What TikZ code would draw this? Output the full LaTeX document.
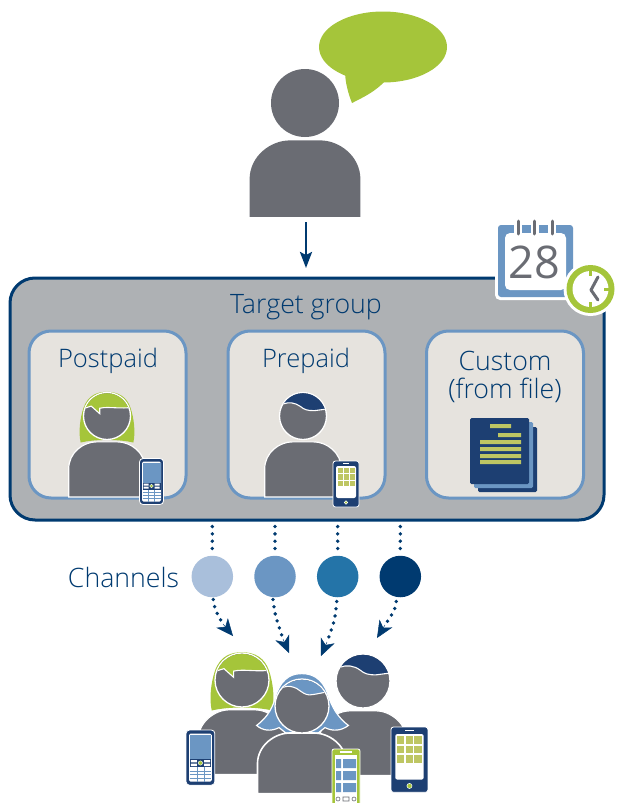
\documentclass[tikz,border=0pt]{standalone}
\usepackage{fontspec}
\setmainfont{Open Sans}
\newfontfamily\lightfont{Open Sans Light}
\usetikzlibrary{arrows.meta,calc}
\definecolor{pgray}{HTML}{6A6C73}
\definecolor{pgreen}{HTML}{A5C53A}
\definecolor{pnavy}{HTML}{1D3F72}
\definecolor{dnavy}{HTML}{003A70}
\definecolor{pblue}{HTML}{6B96C3}
\definecolor{lblue}{HTML}{A9BFDB}
\definecolor{mblue}{HTML}{2474A8}
\definecolor{boxgray}{HTML}{AEB1B4}
\definecolor{cardfill}{HTML}{E6E3DE}
\definecolor{lime}{HTML}{BEC663}
\tikzset{
 card/.style={draw=pblue,line width=3pt,fill=cardfill,rounded corners=22pt,minimum width=157pt,minimum height=167pt,inner sep=0pt},
 cardtitle/.style={text=dnavy,font=\lightfont\fontsize{25.5}{29}\selectfont,align=center,inner sep=0pt},
 widetitle/.style={text=dnavy,font=\lightfont\fontsize{26.7}{29}\selectfont,align=center,inner sep=0pt},
 chan/.style={circle,minimum size=41.5pt,inner sep=0pt},
 dotline/.style={dnavy,line width=3.8pt,line cap=round,dash pattern=on 0pt off 7.3pt},
 tipline/.style={dnavy,line width=2.6pt,-{Stealth[length=16pt,width=12pt,inset=3pt]}},
 headtip/.style={dnavy,line width=0.5pt,-{Stealth[length=17pt,width=15pt,inset=5pt]}},
 halo/.style={draw=white,line width=1.2pt},
}
\newcommand{\bodyshape}[2]{\path[fill=pgray,#2] (-1.63,#1) -- (-1.63,2.25) .. controls (-1.63,1.55) and (-1.0,1.1) .. (-0.45,1.1) -- (0.45,1.1) .. controls (1.0,1.1) and (1.63,1.55) .. (1.63,2.25) -- (1.63,#1) -- cycle;}
\newcommand{\headfringe}[2]{%
 \path[fill=pgray,draw=white,line width=1.3pt] (0,0) circle (1);
 \begin{scope}\clip (0,0) circle (0.97);
 \path[fill=#1,draw=white,line width=1.1pt] #2 -- (1.2,-1.3) -- (-1.2,-1.3) -- cycle;
 \end{scope}}
\newcommand{\greenperson}[4]{\begin{scope}[shift={(#1,#2)},x=#3pt,y=-#3pt]
 \bodyshape{#4}{halo}
 \path[fill=pgreen] (-1.12,1.13) .. controls (-1.22,0.7) and (-1.15,0.1) .. (-1.0,-0.35) .. controls (-0.8,-0.9) and (-0.4,-1.03) .. (0,-1.03) .. controls (0.5,-1.03) and (0.85,-0.8) .. (1.0,-0.35) .. controls (1.15,0.1) and (1.22,0.7) .. (1.12,1.13) .. controls (0.5,0.98) and (-0.5,0.98) .. (-1.12,1.13) -- cycle;
 \headfringe{pgreen}{(-1.2,-0.3) -- (-0.96,-0.33) -- (-0.67,-0.42) -- (-0.31,-0.1) -- (-0.31,-0.33) .. controls (0.1,-0.42) and (0.5,-0.28) .. (1.2,-0.38)}
\end{scope}}
\newcommand{\navyperson}[4]{\begin{scope}[shift={(#1,#2)},x=#3pt,y=-#3pt]
 \bodyshape{#4}{halo}
 \headfringe{pnavy}{(-1.2,-0.42) -- (-0.86,-0.51) .. controls (-0.6,-0.6) and (-0.35,-0.58) .. (-0.1,-0.4) .. controls (0.05,-0.27) and (0.2,-0.22) .. (0.5,-0.23) -- (1.2,-0.32)}
\end{scope}}
\newcommand{\barphone}[3]{\begin{scope}[shift={(#1,#2)},x=#3pt,y=-#3pt]
 \path[fill=pnavy,draw=white,line width=0.8pt,rounded corners=3.5pt] (0,0) rectangle (24,46);
 \path[fill=white,rounded corners=1.5pt] (2.5,3) rectangle (21.5,43);
 \path[fill=pblue] (3,4.5) rectangle (21,24);
 \path[fill=pnavy] (3,24) rectangle (21,31);
 \path[fill=white] (4,25) rectangle (9,27) (15,25) rectangle (20,27) (4,28) rectangle (9,30) (15,28) rectangle (20,30);
 \path[fill=pgreen,draw=white,line width=0.4pt] (12,27.5) circle (1.8);
 \draw[pblue,line width=0.4pt] (3,34) -- (21,34) (3,37) -- (21,37) (3,40) -- (21,40) (9,31) -- (9,43) (15,31) -- (15,43);
\end{scope}}
\newcommand{\tabletphone}[3]{\begin{scope}[shift={(#1,#2)},x=#3pt,y=-#3pt]
 \path[fill=pnavy,draw=white,line width=0.8pt,rounded corners=2.5pt] (0,0) rectangle (26,46);
 \path[fill=white,rounded corners=2pt] (3,5) rectangle (23,37);
 \path[fill=white] (10,2) rectangle (16,3);
 \foreach \ci in {0,1,2}\foreach \cj in {0,1,2}{\path[fill=lime] ({4.5+\ci*6},{6.5+\cj*6.6}) rectangle ({9.5+\ci*6},{12+\cj*6.6});}
 \path[fill=pgreen,draw=white,line width=0.5pt] (13,41.5) circle (1.8);
\end{scope}}
\begin{document}
\begin{tikzpicture}[x=1pt,y=-1pt]
\useasboundingbox (0,0) rectangle (616,803);
\path[fill=pgreen] (383,47) ellipse (64 and 35.5);
\path[fill=pgreen] (345,70) .. controls (345,82) and (348,93) .. (352,103) .. controls (364,97) and (376,91) .. (385,81) -- cycle;
\begin{scope}[shift={(305,103)},x=34pt,y=-34pt]
 \bodyshape{3.35}{}
 \path[fill=pgray] (0,0) circle (1);
\end{scope}
\coordinate (speakerfoot) at (306,222);
\coordinate (boxtop) at (306,268);
\node[draw=dnavy,line width=3pt,fill=boxgray,rounded corners=25pt,minimum width=594pt,minimum height=242pt,inner sep=0pt] (target) at (307,399) {};
\node[widetitle] (targetlabel) at (306,307) {Target group};
\node[card] (post) at (107.5,414.5) {};
\node[card] (pre) at (306.5,414.5) {};
\node[card] (cust) at (505,414.5) {};
\node[cardtitle] (postlabel) at (108,361) {Postpaid};
\node[cardtitle] (prelabel) at (306,361) {Prepaid};
\node[widetitle] (custlabel) at (505,377) {Custom\\[-0.5pt](from file)};
\draw[tipline] (speakerfoot) -- (boxtop);
\path[fill=white,rounded corners=5pt] (495,223) rectangle (576,300);
\path[fill=pblue,rounded corners=3pt] (498,225) rectangle (573,297);
\path[fill=white,rounded corners=5pt] (505,233) rectangle (566,290);
\draw[white,line width=8pt] (518,224) -- (518,233) (534.5,224) -- (534.5,233) (552,224) -- (552,233);
\draw[pgray,line width=3pt,line cap=round] (518,221) -- (518,234) (534.5,221) -- (534.5,234) (552,221) -- (552,234);
\node[text=pgray,font=\fontsize{45}{45}\selectfont,inner sep=0pt] (cal) at (534,262) {28};
\path[fill=white] (590.5,289) circle (27);
\path[fill=pgreen] (590.5,289) circle (24);
\path[fill=white] (590.5,289) circle (18);
\draw[pgray,line width=3pt,line cap=round,line join=round] (598,277) -- (591,290) -- (598,300);
\draw[pgreen,line width=2.2pt] (590.5,270) -- (590.5,276) (590.5,302) -- (590.5,308) (604,289.5) -- (609,289.5);
\greenperson{107}{416}{23.5}{3.45}
\barphone{139.5}{458.5}{1}
\navyperson{303}{416}{23.5}{3.45}
\tabletphone{333}{461}{1}
\path[fill=pnavy,rounded corners=1.5pt] (478,427) rectangle (537,492);
\path[fill=pblue,rounded corners=1.5pt] (474,422) rectangle (533,488);
\path[fill=pnavy,rounded corners=1.5pt] (470,418) rectangle (529,484);
\path[fill=lime] (490,424) rectangle (511,428) (498,433) rectangle (521,437) (480,440) rectangle (521,444) (480,447) rectangle (521,451) (480,454) rectangle (521,458) (480,460) rectangle (521,464);
\node[widetitle] (chlabel) at (123.5,577) {Channels};
\node[chan,fill=lblue] (c1) at (212.3,576.5) {};
\node[chan,fill=pblue] (c2) at (275,576.5) {};
\node[chan,fill=mblue] (c3) at (337.7,576.5) {};
\node[chan,fill=dnavy] (c4) at (400.3,576.5) {};
\foreach \cn in {1,2,3,4}{
 \coordinate (up\cn) at ($(c\cn.north)+(0,-29)$);
 \draw[dotline] (up\cn) -- (c\cn.north);
}
\coordinate (t1) at (233,636);
\coordinate (t2) at (289,653);
\coordinate (t3) at (321,656);
\coordinate (t4) at (377,638);
\coordinate (h1) at (223,624);
\coordinate (h2) at (283,639);
\coordinate (h3) at (327,642);
\coordinate (h4) at (385,625);
\draw[dotline] (c1.south) ++(1,2) .. controls (215,610) .. (h1);
\draw[dotline] (c2.south) ++(-2,2) .. controls (275,615) .. (h2);
\draw[dotline] (c3.south) ++(-1,4) .. controls (335,620) .. (h3);
\draw[dotline] (c4.south) ++(-4,4) .. controls (395,610) .. (h4);
\foreach \cn in {1,2,3,4}{\draw[headtip] (h\cn) -- (t\cn);}
\greenperson{242}{680}{27}{3.5}
\navyperson{363}{681}{27}{3.5}
\begin{scope}[shift={(302,706)},x=27pt,y=-27pt]
 \path[fill=pblue,draw=white,line width=1.2pt] (-1.68,0.72) .. controls (-1.25,0.4) and (-1.05,0) .. (-0.95,-0.45) .. controls (-0.7,-1.12) and (-0.3,-1.2) .. (0,-1.2) .. controls (0.35,-1.2) and (0.75,-1.05) .. (0.95,-0.45) .. controls (1.1,0.05) and (1.35,0.45) .. (1.72,0.72) .. controls (1.45,0.92) and (1.15,0.95) .. (0.85,0.8) -- (0.6,1) -- (-0.6,1) -- (-0.85,0.8) .. controls (-1.15,0.95) and (-1.45,0.92) .. (-1.68,0.72) -- cycle;
 \path[fill=pgray,draw=white,line width=1.6pt] (-1.65,3.25) -- (-1.65,2.15) .. controls (-1.65,1.45) and (-1.0,1.0) .. (-0.45,1.0) -- (0.45,1.0) .. controls (1.0,1.0) and (1.65,1.45) .. (1.65,2.15) -- (1.65,3.25) -- cycle;
 \headfringe{pblue}{(-1.2,-0.5) -- (-0.95,-0.54) .. controls (-0.75,-0.72) and (-0.5,-0.8) .. (-0.2,-0.65) .. controls (0,-0.52) and (0.1,-0.42) .. (0.27,-0.41) .. controls (0.5,-0.42) and (0.7,-0.5) .. (1.2,-0.55)}
\end{scope}
\barphone{186}{730}{1.2}
\tabletphone{391}{727}{1.42}
\path[fill=pgreen,draw=white,line width=0.8pt,rounded corners=2pt] (332,749) rectangle (360,806);
\path[fill=white] (335,755) rectangle (357,803);
\path[fill=white] (340,751) rectangle (352,753);
\path[fill=pblue] (336,759) rectangle (341,768) (343,759) rectangle (356,768) (336,771) rectangle (341,780) (343,771) rectangle (356,780) (336,783) rectangle (341,792) (343,783) rectangle (356,792);
\draw[pgray,line width=0.6pt] (338,799) circle (2) (354,799) circle (2) (343,797) rectangle (349,801);
\end{tikzpicture}
\end{document}
